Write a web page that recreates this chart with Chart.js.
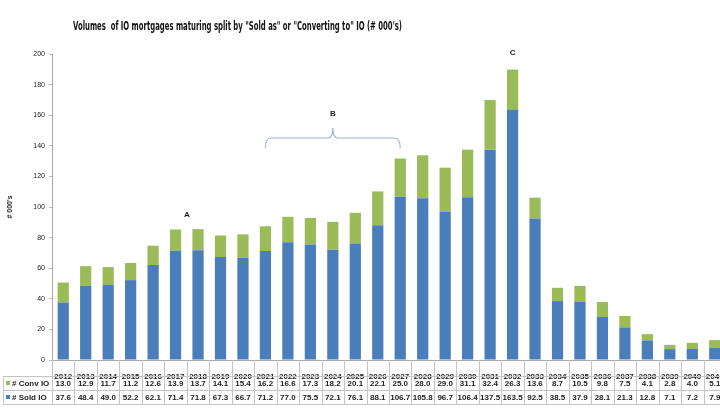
<!DOCTYPE html>
<html>
<head>
<meta charset="utf-8">
<script src="https://cdn.jsdelivr.net/npm/chart.js@4.4.1/dist/chart.umd.min.js"></script>
<style>
  html, body { margin: 0; padding: 0; background: #fff; overflow: hidden; }
  #wrap { width: 720px; height: 409px; overflow: hidden; position: relative; }
  canvas { position: absolute; left: 0; top: 0; }
</style>
</head>
<body>
<div id="wrap"><canvas id="chart" width="740" height="409"></canvas></div>
<script>
// DATA
const years = ["2012", "2013", "2014", "2015", "2016", "2017", "2018", "2019", "2020", "2021",
  "2022", "2023", "2024", "2025", "2026", "2027", "2028", "2029", "2030", "2031",
  "2032", "2033", "2034", "2035", "2036", "2037", "2038", "2039", "2040", "2041"];
const convIO = [13.0, 12.9, 11.7, 11.2, 12.6, 13.9, 13.7, 14.1, 15.4, 16.2,
  16.6, 17.3, 18.2, 20.1, 22.1, 25.0, 28.0, 29.0, 31.1, 32.4,
  26.3, 13.6, 8.7, 10.5, 9.8, 7.5, 4.1, 2.8, 4.0, 5.1];
const soldIO = [37.6, 48.4, 49.0, 52.2, 62.1, 71.4, 71.8, 67.3, 66.7, 71.2,
  77.0, 75.5, 72.1, 76.1, 88.1, 106.7, 105.8, 96.7, 106.4, 137.5,
  163.5, 92.5, 38.5, 37.9, 28.1, 21.3, 12.8, 7.1, 7.2, 7.9];
const yTicks = [0, 20, 40, 60, 80, 100, 120, 140, 160, 180, 200];

const titleText = 'Volumes  of IO mortgages maturing split by "Sold as" or "Converting to" IO (# 000\'s)';
const BLUE = "#4a7ebb";
const GREEN = "#9bbb59";
const LINE = "#c4c4c4";

//TITLE + DATA TABLE + NOTES
const extras = {
  id: "extras",
  afterDraw(chart) {
    const ctx = chart.ctx;
    const xs = chart.scales.x;
    const ys = chart.scales.y;
    const half = (xs.getPixelForValue(1) - xs.getPixelForValue(0)) / 2;
    const top = ys.bottom;
    const r1 = 376, r2 = 390, r3 = 404;
    const leftX = 3;
    const rightX = xs.right;

    ctx.save();
    // title, squeezed to the width in the picture
    ctx.font = "bold 12px 'Liberation Sans Narrow', 'DejaVu Sans Condensed', sans-serif";
    ctx.fillStyle = "#111";
    ctx.textBaseline = "middle";
    const w = ctx.measureText(titleText).width;
    const target = 329;
    ctx.translate(73, 27);
    ctx.scale(target / w, 1);
    ctx.textAlign = "left";
    ctx.fillText(titleText, 0, 0);
    ctx.restore();

    // table lines
    ctx.save();
    ctx.strokeStyle = LINE;
    ctx.lineWidth = 1;
    ctx.beginPath();
    [r1, r2, r3].forEach((y) => {
      ctx.moveTo(leftX, y + 0.5);
      ctx.lineTo(rightX, y + 0.5);
    });
    ctx.moveTo(leftX + 0.5, r1);
    ctx.lineTo(leftX + 0.5, r3);
    for (let i = 0; i <= years.length; i++) {
      const x = Math.round(xs.getPixelForValue(0) - half + i * half * 2) + 0.5;
      ctx.moveTo(x, top);
      ctx.lineTo(x, r3);
    }
    ctx.stroke();

    // legend keys
    ctx.fillStyle = GREEN;
    ctx.fillRect(6, 381, 4, 4);
    ctx.fillStyle = BLUE;
    ctx.fillRect(6, 395, 4, 4);
    ctx.fillStyle = "#222";
    ctx.font = "bold 8px Arial, 'Liberation Sans', sans-serif";
    ctx.textBaseline = "middle";
    ctx.textAlign = "left";
    ctx.fillText("# Conv IO", 12, 383.5);
    ctx.fillText("# Sold IO", 12, 397.5);

    // values
    ctx.textAlign = "center";
    for (let i = 0; i < years.length; i++) {
      const x = xs.getPixelForValue(i);
      ctx.fillText(convIO[i].toFixed(1), x, 383.5);
      ctx.fillText(soldIO[i].toFixed(1), x, 397.5);
    }

    // notes A, B, C
    ctx.font = "bold 8px Arial, 'Liberation Sans', sans-serif";
    ctx.fillStyle = "#222";
    const iA = years.indexOf("2017"), iA2 = years.indexOf("2018");
    const xA = (xs.getPixelForValue(iA) + xs.getPixelForValue(iA2)) / 2;
    const yA = ys.getPixelForValue(Math.max(soldIO[iA] + convIO[iA], soldIO[iA2] + convIO[iA2])) - 14;
    ctx.fillText("A", xA, yA);

    const iC = years.indexOf("2032");
    ctx.fillText("C", xs.getPixelForValue(iC), ys.getPixelForValue(soldIO[iC] + convIO[iC]) - 17);

    const iB1 = years.indexOf("2021"), iB2 = years.indexOf("2027");
    const xb1 = xs.getPixelForValue(iB1), xb2 = xs.getPixelForValue(iB2);
    const xbm = (xb1 + xb2) / 2;
    const yb = 138;
    ctx.strokeStyle = "#9db3cf";
    ctx.lineWidth = 1.2;
    ctx.beginPath();
    ctx.moveTo(xb1, yb + 10);
    ctx.quadraticCurveTo(xb1, yb, xb1 + 6, yb);
    ctx.lineTo(xbm - 5, yb);
    ctx.quadraticCurveTo(xbm, yb, xbm, yb - 10);
    ctx.quadraticCurveTo(xbm, yb, xbm + 5, yb);
    ctx.lineTo(xb2 - 6, yb);
    ctx.quadraticCurveTo(xb2, yb, xb2, yb + 10);
    ctx.stroke();
    ctx.fillText("B", xbm, 114);
    ctx.restore();
  },
};

const chart = new Chart(document.getElementById("chart"), {
  type: "bar",
  data: {
    labels: years,
    datasets: [
      { label: "# Sold IO", data: soldIO, backgroundColor: BLUE },
      { label: "# Conv IO", data: convIO, backgroundColor: GREEN },
    ],
  },
  options: {
    responsive: false,
    animation: false,
    devicePixelRatio: 1,
    layout: { padding: { top: 54, right: 14, left: 0, bottom: 0 } },
    plugins: {
      legend: { display: false },
      title: { display: false },
      tooltip: { enabled: false },
    },
    datasets: { bar: { categoryPercentage: 1, barPercentage: 0.5 } },
    scales: {
      x: {
        stacked: true,
        grid: { display: false },
        border: { display: true, color: "#aaa" },
        ticks: {
          color: "#222",
          font: { size: 8, weight: "bold", family: "Arial, 'Liberation Sans', sans-serif" },
          padding: 4,
          maxRotation: 0,
          autoSkip: false,
        },
        afterFit: (s) => { s.height = 49; },
      },
      y: {
        stacked: true,
        min: 0,
        max: 200,
        afterBuildTicks: (s) => { s.ticks = yTicks.map((v) => ({ value: v })); },
        grid: { drawOnChartArea: false, tickLength: 3, color: "#bbb" },
        border: { display: true, color: "#aaa" },
        ticks: {
          color: "#222",
          font: { size: 7, family: "Arial, 'Liberation Sans', sans-serif" },
          padding: 4,
        },
        title: {
          display: true,
          text: "# 000's",
          color: "#222",
          font: { size: 7, weight: "bold", family: "Arial, 'Liberation Sans', sans-serif" },
          padding: { top: 6, bottom: 0 },
        },
        afterFit: (s) => { s.width = 52; },
      },
    },
  },
  plugins: [extras],
});
</script>
</body>
</html>
